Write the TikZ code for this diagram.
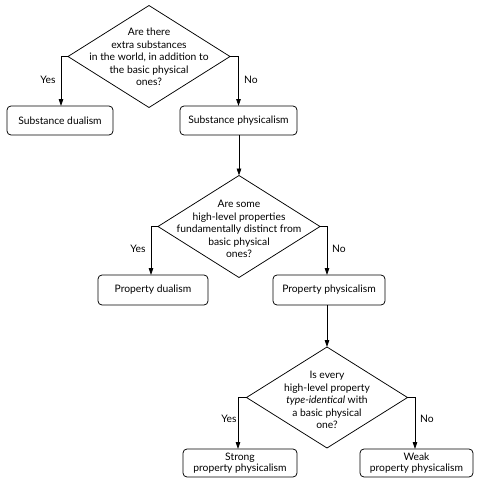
\documentclass[tikz,border=0pt]{standalone}
\usepackage{fontspec}
\setmainfont{Lato}
\usetikzlibrary{shapes.geometric,arrows.meta}
\begin{document}
\begin{tikzpicture}[x=1pt,y=-1pt,
  every node/.style={font=\fontsize{10.3}{12.5}\selectfont},
  dia/.style={draw,diamond,minimum width=#1,minimum height=102pt,inner sep=0pt,outer sep=0pt,line width=0.75pt},
  box/.style={draw,rounded corners=4pt,minimum width=#1,minimum height=29pt,inner sep=1pt,outer sep=0pt,line width=0.75pt,align=center,font=\fontsize{10.3}{11.5}\selectfont},
  dtext/.style={align=center,inner sep=0pt},
  lab/.style={inner sep=0pt},
  conn/.style={line width=0.75pt,-{Triangle[length=7pt,width=4.5pt]}}]
\useasboundingbox (0,0) rectangle (479,483);
% first question
\node[dia=162pt] (d1) at (149,56.5) {};
\node[dtext] (t1) at (149,57) {Are there\\extra substances\\in the world, in addition to\\the basic physical\\ones?};
\node[box=106pt] (sd) at (60,120.5) {Substance dualism};
\node[box=117pt] (sp) at (238.5,120.5) {Substance physicalism};
\draw[conn] (d1.west) -| ([xshift=1pt]sd.north);
\draw[conn] (d1.east) -| (sp.north);
\node[lab] (y1) at (48,80) {Yes};
\node[lab] (n1) at (251,80) {No};
% second question
\node[dia=162pt] (d2) at (239,226.5) {};
\node[dtext] (t2) at (239,229) {Are some\\high-level properties\\fundamentally distinct from\\basic physical\\ones?};
\node[box=110pt,minimum height=30pt] (pd) at (153,290) {Property dualism};
\node[box=112pt,minimum height=30pt] (pp) at (329,290) {Property physicalism};
\draw[conn] (sp.south -| d2.north) -- (d2.north);
\draw[conn] (d2.west) -| ([xshift=-2pt]pd.north);
\draw[conn] (d2.east) -| ([xshift=-2pt]pp.north);
\node[lab] (y2) at (138,249) {Yes};
\node[lab] (n2) at (339,249) {No};
% third question
\node[dia=161pt,minimum height=101pt] (d3) at (327,397.5) {};
\node[dtext] (t3) at (327,400) {Is every\\high-level property\\\textit{type-identical} with\\a basic physical\\one?};
\node[box=114pt,minimum height=28pt] (st) at (240,463) {Strong\\property physicalism};
\node[box=113pt,minimum height=28pt] (wk) at (416.5,463) {Weak\\property physicalism};
\draw[conn] (pp.south -| d3.north) -- (d3.north);
\draw[conn] (d3.west) -| ([xshift=-2pt]st.north);
\draw[conn] (d3.east) -| ([xshift=-1.5pt]wk.north);
\node[lab] (y3) at (229,419) {Yes};
\node[lab] (n3) at (427,419) {No};
\end{tikzpicture}
\end{document}
